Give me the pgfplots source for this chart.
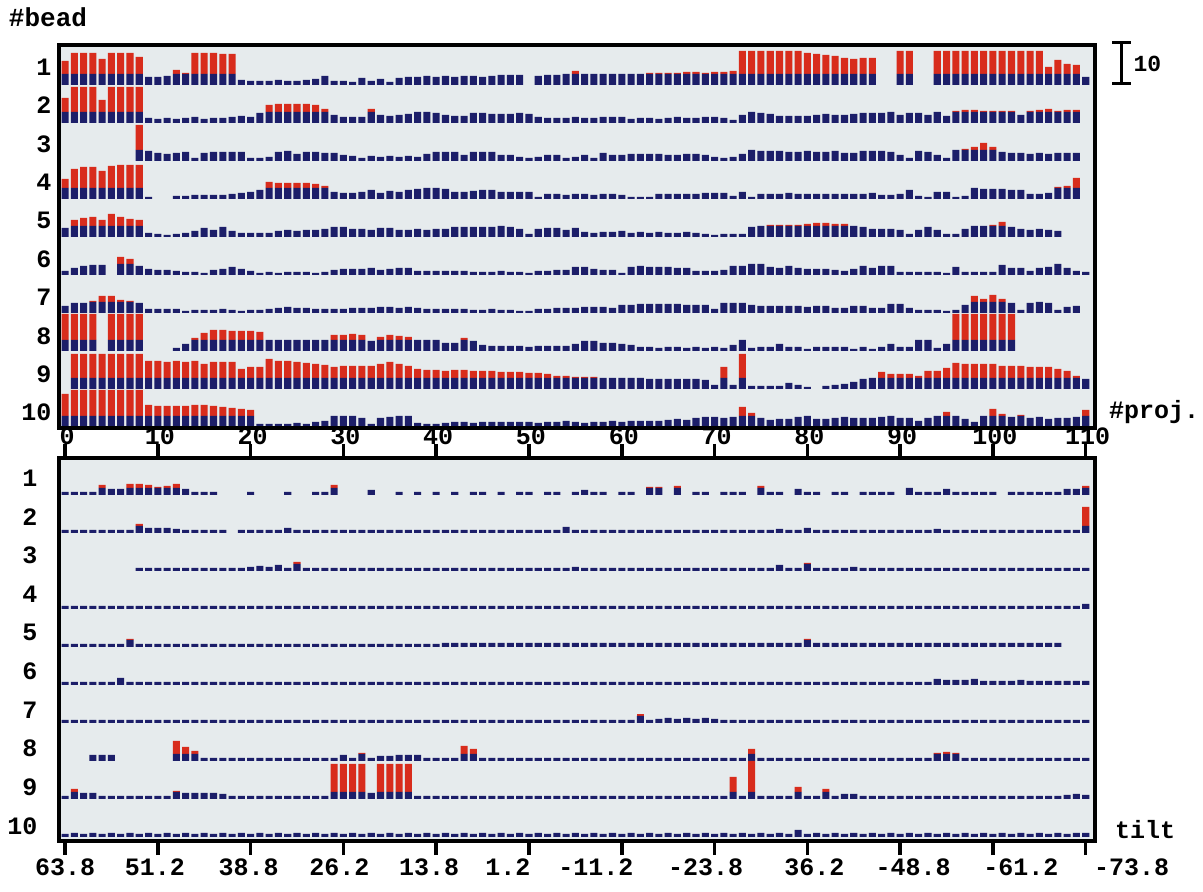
\documentclass[border=0pt]{standalone}
\usepackage{fontspec}
\setmainfont{Liberation Mono}
\usepackage{pgfplots}
\pgfplotsset{compat=1.18}
\usepackage{pgfplotstable}
\definecolor{barblue}{RGB}{28,30,105}
\definecolor{barred}{RGB}{216,44,28}
\definecolor{panelbg}{RGB}{230,235,237}

% upper panel: residual per bead (rows) and projection (columns), pixel units
\pgfplotstableread[header=false]{
b1 24 32 32 32 26 32 32 32 28 8  8 9 15 12 32 32 32 31 31 5  4 4 4 5 4 4 5 6 9 4  4 3 7 4 6 3 7 8 8 9  8 9 8 9 9 8 9 10 10 10  0 9 10 10 11 14 11 11 11 11  11 11 11 12 12 12 12 13 13 12  13 13 14 34 34 34 34 34 34 34  32 31 30 29 27 26 27 27 0 0  34 34 0 0 34 34 34 34 34 34  34 34 34 34 34 34 18 25 21 20  8
b2 25 36 36 36 23 36 36 36 36 5  4 5 4 5 6 4 5 5 6 7  6 10 18 19 19 19 19 18 14 8  6 6 6 14 8 7 8 9 11 11  10 8 7 7 10 10 9 9 9 10  9 6 5 5 5 6 5 5 6 6  6 4 5 5 4 5 6 5 5 6  6 5 3 8 11 10 9 7 7 7  7 8 9 8 8 9 10 10 10 11  8 10 10 8 11 7 12 13 13 12  12 12 12 8 12 13 14 12 13 13  0
b3 0 0 0 0 0 0 0 0 36 10  8 7 8 9 3 8 9 9 9 9  3 3 4 9 10 7 9 9 8 8  6 5 3 5 4 5 4 5 4 7  9 9 9 6 9 9 9 6 6 4  3 4 6 6 3 4 6 3 8 6  6 7 7 7 7 6 6 7 7 6  4 3 4 7 11 10 10 10 9 9  10 9 9 10 8 8 10 10 10 9  6 3 10 9 6 3 11 12 14 18  14 9 8 8 7 8 7 8 8 8  0
b4 20 30 32 32 28 33 34 34 34 2  0 0 3 3 4 4 4 4 5 6  7 9 17 16 16 16 16 15 13 7  6 6 7 9 6 8 7 9 10 11  11 10 7 7 8 9 9 7 7 7  7 2 5 5 4 5 5 4 5 5  4 2 2 2 5 5 5 5 5 6  6 6 3 7 2 5 5 5 6 5  5 5 5 5 5 5 5 6 4 4  5 9 3 2 7 7 2 3 11 10  10 10 9 9 5 5 6 12 13 21  0
b5 9 17 19 20 17 23 20 18 17 4  3 2 3 4 6 9 7 10 6 4  4 4 4 6 7 6 7 7 8 10  10 8 8 7 9 9 7 7 8 7  8 8 10 10 10 10 10 11 10 8  3 8 9 9 7 9 5 4 5 5  6 4 5 4 5 4 4 5 4 3  2 3 3 3 10 11 12 12 12 12  13 14 14 13 13 11 10 8 8 8  7 3 7 10 7 3 3 8 11 11  12 15 10 8 7 8 7 6 0 0  0
b6 4 7 9 10 10 0 18 16 9 6  5 5 4 3 3 2 5 6 8 6  4 2 3 2 3 3 3 2 3 5  6 6 6 7 5 6 7 7 4 4  4 4 4 4 3 3 3 4 3 3  2 4 4 5 5 8 8 6 5 5  2 8 9 8 8 8 7 7 4 4  4 5 9 9 11 11 8 7 9 7  6 6 6 5 4 6 9 7 9 9  3 3 3 3 3 2 8 3 3 3  3 10 7 7 4 7 8 11 7 4  3
b7 7 10 10 12 17 17 13 12 10 4  4 4 4 2 3 3 3 4 3 2  3 3 4 5 6 5 5 4 4 4  4 5 5 5 6 6 5 6 5 4  4 4 4 4 3 3 4 3 3 2  2 4 4 5 5 5 6 6 6 5  8 8 9 9 9 9 9 8 8 8  4 10 10 10 8 7 7 7 7 7  6 7 7 5 5 7 7 5 5 9  9 5 3 3 3 2 3 8 17 14  18 14 10 3 10 11 10 3 6 7  0
b8 37 37 37 37 0 37 37 37 37 0  0 0 3 7 13 18 21 21 20 20  20 19 11 11 11 11 11 11 11 16  16 17 16 10 14 16 15 14 11 11  11 8 8 13 10 6 5 5 5 5  4 5 5 5 5 7 10 10 8 8  7 6 4 4 3 4 4 3 4 3  4 3 6 11 3 4 4 7 4 4  2 4 4 4 4 2 4 2 4 7  4 4 11 11 3 7 37 37 37 37  37 37 37 0 0 0 0 0 0 0  0
b9 0 35 35 35 35 35 35 35 35 28  28 27 28 27 28 25 27 27 27 20  22 22 30 28 28 27 26 25 24 22  23 23 23 23 25 27 25 23 20 19  19 18 19 19 18 18 18 17 17 17  16 16 15 13 13 12 12 12 11 11  11 11 11 10 10 10 10 10 10 9  4 22 4 35 3 3 3 3 6 4  2 0 3 4 5 7 10 11 17 15  15 15 13 18 18 21 26 25 25 25  25 23 23 23 22 22 22 20 18 13  10
b10 33 37 37 37 37 37 37 37 37 22  21 21 21 21 22 22 21 20 19 18  17 3 3 3 3 4 3 5 6 11  11 11 9 3 9 10 11 11 4 3  3 4 5 5 4 5 5 5 5 5  5 4 5 5 6 5 4 5 5 6  5 6 6 6 6 7 8 7 9 10  10 9 10 20 14 9 7 8 8 10  11 8 8 9 10 9 9 9 10 11  9 9 6 9 11 15 11 8 5 11  18 13 10 12 9 10 8 9 9 10  17
}\upraw
\pgfplotstabletranspose[colnames from=0,input colnames to=p]\up\upraw

% lower panel
\pgfplotstableread[header=false]{
c1 3 3 3 3 10 6 6 11 11 10  8 9 11 6 3 3 3 0 0 0  3 0 0 0 3 0 0 3 3 10  0 0 0 5 0 0 3 0 3 0  3 0 3 0 3 3 0 3 0 3  3 0 3 3 0 3 5 3 3 0  3 3 0 8 8 0 9 0 3 3  0 3 3 3 0 9 3 3 0 6  3 3 0 3 3 0 3 3 3 3  0 7 3 3 3 6 3 3 3 3  3 0 3 3 3 3 3 3 6 6  9
c2 3 3 3 3 3 3 3 3 9 5  5 5 4 3 3 3 3 3 0 3  3 3 3 3 5 3 3 3 3 3  3 3 3 3 3 3 3 3 3 3  3 3 3 3 3 3 3 3 3 3  3 3 3 3 6 3 3 3 3 3  3 3 3 3 3 3 3 3 3 3  3 3 3 3 3 3 3 4 3 3  5 3 3 3 3 3 3 3 3 3  3 3 3 3 4 3 3 3 3 3  3 3 3 3 3 3 3 3 3 3  26
c3 0 0 0 0 0 0 0 0 3 3  3 3 3 3 3 3 3 3 3 3  4 5 4 6 3 9 3 3 3 3  3 3 3 3 3 3 3 3 3 3  3 3 3 3 3 3 3 3 3 3  3 3 3 3 3 4 3 3 3 3  3 3 3 3 3 3 3 3 3 3  3 3 3 3 3 3 3 6 3 3  8 3 3 3 3 4 3 3 3 3  3 3 3 3 3 3 3 3 3 3  3 3 3 3 3 3 3 3 3 3  3
c4 3 3 3 3 3 3 3 3 3 3  3 3 3 3 3 3 3 3 3 3  3 3 3 3 3 3 3 3 3 3  3 3 3 3 3 3 3 3 3 3  3 3 3 3 3 3 3 3 3 3  3 3 3 3 3 3 3 3 3 3  3 3 3 3 3 3 3 3 3 3  3 3 3 3 3 3 3 3 3 3  3 3 3 3 3 3 3 3 3 3  3 3 3 3 3 3 3 3 3 3  3 3 3 3 3 3 3 3 3 3  5
c5 3 3 3 3 3 3 3 8 3 3  3 3 3 3 3 3 3 3 3 3  3 3 3 3 3 3 3 3 3 3  3 3 3 3 3 3 3 3 3 3  3 4 4 4 4 4 4 4 4 4  4 4 4 4 4 4 4 4 4 4  4 4 4 4 4 4 4 4 4 4  4 4 4 4 4 4 4 4 4 4  8 4 4 4 4 4 4 4 4 4  4 4 4 4 4 4 4 4 4 4  4 4 4 4 4 4 4 4 0 0  0
c6 3 3 3 3 3 3 7 3 3 3  3 3 3 3 3 3 3 3 3 3  3 3 3 3 3 3 3 3 3 3  3 3 3 3 3 3 3 3 3 3  3 3 3 3 3 3 3 3 3 3  3 3 3 3 3 3 3 3 3 3  3 3 3 3 3 3 3 3 3 3  3 3 3 3 3 3 3 3 3 3  3 3 3 3 3 3 3 3 3 3  3 3 3 3 6 5 5 5 6 4  4 4 4 5 4 4 4 4 4 4  4
c7 3 3 3 3 3 3 3 3 3 3  3 3 3 3 3 3 3 3 3 3  3 3 3 3 3 3 3 3 3 3  3 3 3 3 3 3 3 3 3 3  3 3 3 3 3 3 3 3 3 3  3 3 3 3 3 3 3 3 3 3  3 3 9 3 4 5 4 5 4 5  4 3 3 3 3 3 3 3 3 3  3 3 3 3 3 3 3 3 3 3  3 3 3 3 3 3 3 3 3 3  3 3 3 3 3 3 3 3 3 3  3
c8 0 0 0 6 6 6 0 0 0 0  0 0 20 14 10 3 3 3 3 3  3 3 3 3 3 3 3 3 3 3  6 3 8 3 5 5 6 6 6 3  3 3 3 15 12 3 3 3 3 3  3 3 3 3 3 3 3 3 3 3  3 3 3 3 3 3 3 3 3 3  3 3 3 3 12 3 3 3 3 3  3 3 3 3 3 3 3 3 3 3  3 3 3 3 8 9 8 3 3 3  3 3 3 3 3 3 3 3 3 3  3
c9 3 10 6 6 3 3 3 3 3 3  3 3 8 6 6 6 6 5 3 3  3 3 3 3 3 3 3 3 3 35  35 35 35 6 35 35 35 35 3 3  3 3 3 3 3 3 3 3 3 3  3 3 3 3 3 3 3 3 3 3  3 3 3 3 3 3 3 3 3 3  3 3 22 3 38 3 3 3 3 12  3 3 10 3 5 5 3 3 3 3  3 3 3 3 3 3 3 3 3 3  3 3 3 3 3 3 3 3 4 5  4
c10 3 4 3 4 3 4 3 4 3 4  3 4 3 4 3 4 3 4 3 4  3 4 3 4 3 4 3 4 3 4  3 4 3 4 3 4 3 4 3 4  3 4 3 4 3 4 3 4 3 4  3 4 3 4 3 4 3 4 3 4  3 4 3 4 3 4 3 4 3 4  3 4 3 4 3 4 3 4 3 7  3 4 3 4 3 4 3 4 3 4  3 4 3 4 3 4 3 4 3 4  3 4 3 4 3 4 3 4 3 4  4
}\loraw
\pgfplotstabletranspose[colnames from=0,input colnames to=p]\lo\loraw

\pgfplotsset{
  rowax/.style={width=1036pt,height=38pt,scale only axis,anchor=south west,
    xmin=-0.65,xmax=111,ymin=0,ymax=38,hide axis,clip=false,
    ybar stacked,bar width=0.76},
  bgax/.style={width=1036pt,height=383pt,scale only axis,anchor=south west,
    xmin=0,xmax=1,ymin=0,ymax=1,axis line style={draw=none},ticks=none,
    axis background/.style={fill=panelbg}},
  frameax/.style={width=1036pt,height=383pt,scale only axis,anchor=south west,
    xmin=-0.65,xmax=111,ymin=0,ymax=383,
    axis line style={line width=4.5pt,line cap=rect},
    tick label style={font=\fontsize{25}{25}\selectfont\bfseries},
    ytick style={draw=none},
    yticklabel style={anchor=east,xshift=-4pt},
    xtick={0,10,...,110}},
}
\newcommand\beadrow[4]{%
\begin{axis}[rowax,at={(59pt,#3)}]
\addplot[fill=barblue,draw=none] table[x expr=\coordindex,y expr={min(\thisrow{#2},#4)}]{#1};
\addplot[fill=barred,draw=none] table[x expr=\coordindex,y expr={max(\thisrow{#2}-#4,0)}]{#1};
\end{axis}}

\begin{document}
\begin{tikzpicture}[x=1pt,y=1pt]
\useasboundingbox (0,0) rectangle (1203,892);
\begin{axis}[bgax,at={(59pt,464pt)}]\end{axis}
\begin{axis}[bgax,at={(59pt,51pt)}]\end{axis}

\beadrow{\up}{b1}{807pt}{11}
\beadrow{\up}{b2}{769pt}{11}
\beadrow{\up}{b3}{731pt}{11}
\beadrow{\up}{b4}{693pt}{11}
\beadrow{\up}{b5}{655pt}{11}
\beadrow{\up}{b6}{617pt}{11}
\beadrow{\up}{b7}{579pt}{11}
\beadrow{\up}{b8}{541pt}{11}
\beadrow{\up}{b9}{503pt}{11}
\beadrow{\up}{b10}{465pt}{11}

\beadrow{\lo}{c1}{397pt}{7}
\beadrow{\lo}{c2}{359pt}{7}
\beadrow{\lo}{c3}{321pt}{7}
\beadrow{\lo}{c4}{283pt}{7}
\beadrow{\lo}{c5}{245pt}{7}
\beadrow{\lo}{c6}{207pt}{7}
\beadrow{\lo}{c7}{169pt}{7}
\beadrow{\lo}{c8}{131pt}{7}
\beadrow{\lo}{c9}{93pt}{7}
\beadrow{\lo}{c10}{55pt}{7}

\begin{axis}[frameax,at={(59pt,464pt)},
  major tick length=0pt,
  xticklabels={0,10,20,30,40,50,60,70,80,90,100,110},
  xticklabel style={yshift=4pt,xshift=2pt},
  ytick={361,322.6,284.2,245.8,207.4,169,130.6,92.2,53.8,15.4},
  yticklabels={1,2,3,4,5,6,7,8,9,10}]
\end{axis}
\begin{axis}[frameax,at={(59pt,51pt)},
  tick align=outside,
  major tick length=14pt,
  xtick style={line width=3.5pt,black},
  xticklabels={63.8,\kern-3pt 51.2\kern3pt,\kern-2pt 38.8\kern2pt,\kern-4pt 26.2\kern4pt,\kern-7pt 13.8\kern7pt,\kern-21pt 1.2\kern21pt,\kern-26pt -11.2\kern26pt,\kern-9pt -23.8\kern9pt,\kern7pt 36.2\kern-7pt,\kern13pt -48.8\kern-13pt,\kern28pt -61.2\kern-28pt,\kern46pt -73.8\kern-46pt},
  ytick={363,324.3,285.7,247,208.3,169.7,131,92.3,53.7,15},
  yticklabels={1,2,3,4,5,6,7,8,9,10}]
\end{axis}

\node[font=\fontsize{26}{26}\selectfont\bfseries] at (48,875) {\#bead};
\node[font=\fontsize{25}{25}\selectfont\bfseries] at (1154,480) {\#proj.};
\node[font=\fontsize{25}{25}\selectfont\bfseries] at (1145,62) {tilt};
\draw[line width=3pt] (1112,849)--(1131,849) (1121,849)--(1121,808) (1112,808)--(1131,808);
\node[font=\fontsize{23}{23}\selectfont\bfseries,anchor=west] at (1130,828) {10};
\end{tikzpicture}
\end{document}
